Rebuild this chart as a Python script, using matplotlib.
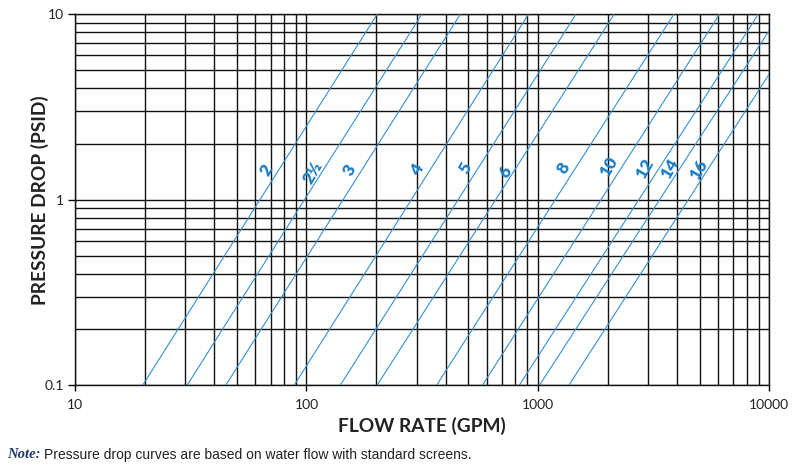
import matplotlib
matplotlib.use('Agg')
import matplotlib.pyplot as plt

# screen sizes (inches) and the end points of each straight line
sizes = ['2', '2½', '3', '4', '5', '6', '8', '10', '12', '14', '16']
flowStart = [19.6, 30.5, 44.8, 88.5, 140, 202, 365, 576, 831, 1016, 1361]
dropStart = [0.1, 0.1, 0.1, 0.1, 0.1, 0.1, 0.1, 0.1, 0.1, 0.1, 0.1]
flowEnd = [202, 315, 462, 910, 1460, 2135, 3869, 6090, 8960, 10000, 10000]
dropEnd = [10, 10, 10, 10, 10, 10, 10, 10, 10, 8.2, 4.77]

# where the size labels sit
labelFlow = [67.4, 106.9, 154.5, 300, 485.6, 722.7, 1291, 2023, 2913, 3735, 4953]
labelDrop = [1.448, 1.395, 1.448, 1.448, 1.484, 1.417, 1.475, 1.509, 1.475, 1.475, 1.448]

xTicks = [10, 100, 1000, 10000]
xTickLabels = ['10', '100', '1000', '10000']
yTicks = [0.1, 1, 10]
yTickLabels = ['0.1', '1', '10']

blue = '#3590d4'
labelBlue = '#1c7fc8'
tickFont = 'Lato'

fig = plt.figure(figsize=(8.06, 4.76), dpi=100)
ax = fig.add_axes([75 / 806, 1 - 385.3 / 476, (769.3 - 75) / 806, (385.3 - 14.3) / 476])

ax.set_xscale('log')
ax.set_yscale('log')
ax.set_xlim(10, 10000)
ax.set_ylim(0.1, 10)

ax.grid(True, which='both', color='#111111', linewidth=1.0)
ax.set_axisbelow(True)

for i in range(len(sizes)):
    ax.plot([flowStart[i], flowEnd[i]], [dropStart[i], dropEnd[i]],
            color=blue, linewidth=0.8, solid_capstyle='butt', zorder=3)
    ax.text(labelFlow[i], labelDrop[i], sizes[i], color=labelBlue,
            fontsize=12.5, fontweight='heavy', family=tickFont,
            rotation=60, rotation_mode='anchor', ha='center', va='center',
            zorder=4)

ax.set_xticks(xTicks)
ax.set_xticklabels(xTickLabels)
ax.set_yticks(yTicks)
ax.set_yticklabels(yTickLabels)
ax.tick_params(which='minor', length=0)
ax.tick_params(axis='x', which='major', length=4, width=1, pad=6,
               labelsize=10, labelcolor='#222222')
ax.tick_params(axis='y', which='major', length=5, width=1, pad=3,
               labelsize=10, labelcolor='#222222')
for lbl in ax.get_xticklabels() + ax.get_yticklabels():
    lbl.set_family(tickFont)

for s in ax.spines.values():
    s.set_linewidth(1.0)
    s.set_color('#111111')

ax.set_xlabel('FLOW RATE (GPM)', fontsize=13.8, fontweight='bold',
              family=tickFont, color='#222222')
ax.xaxis.label.set_va('center')
ax.xaxis.set_label_coords(0.5, -(426 - 385.3) / 371)
ax.set_ylabel('PRESSURE DROP (PSID)', fontsize=13.8, fontweight='bold',
              family=tickFont, color='#222222')
ax.yaxis.label.set_va('center')
ax.yaxis.set_label_coords(-(75 - 40) / 694.3, 0.5)

fig.text(7 / 806, 1 - 455 / 476, 'Note:', fontsize=10.5, fontweight='bold',
         style='italic', family='Liberation Serif', color='#1f3a6e', va='center')
fig.text(44 / 806, 1 - 455 / 476,
         'Pressure drop curves are based on water flow with standard screens.',
         fontsize=10.0, family='Liberation Sans', color='#222222', va='center')

fig.savefig('out.png', dpi=100)
